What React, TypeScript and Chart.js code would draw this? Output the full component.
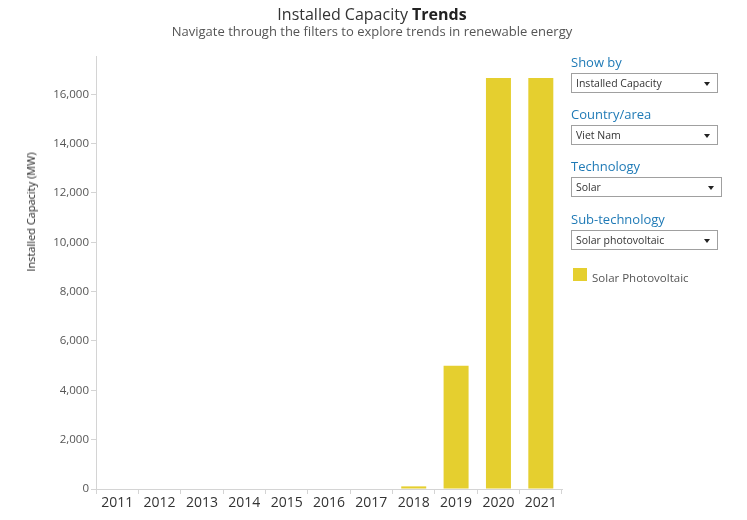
import React, { useEffect, useRef } from "react";
import { Chart, registerables } from "chart.js";

Chart.register(...registerables);

const years = ["2011", "2012", "2013", "2014", "2015", "2016", "2017", "2018", "2019", "2020", "2021"];
const capacityMW = [0, 0, 0, 0, 0, 0, 0, 106, 4998, 16660, 16660];
const seriesName = "Solar Photovoltaic";
const yTickValues = [0, 2000, 4000, 6000, 8000, 10000, 12000, 14000, 16000];
const yMax = 17550;

const filters = [
  { label: "Show by", value: "Installed Capacity", top: 73, width: 147 },
  { label: "Country/area", value: "Viet Nam", top: 125, width: 147 },
  { label: "Technology", value: "Solar", top: 177, width: 151 },
  { label: "Sub-technology", value: "Solar photovoltaic", top: 230, width: 147 },
];

const FONT = "'Open Sans', 'Noto Sans', sans-serif";
const BAR = "#e5cf2f";

export default function App() {
  const ref = useRef<HTMLCanvasElement | null>(null);

  useEffect(() => {
    document.body.style.margin = "0";
    const canvas = ref.current;
    if (!canvas) return;
    const chart = new Chart(canvas, {
      type: "bar",
      data: {
        labels: years,
        datasets: [
          {
            label: seriesName,
            data: capacityMW,
            backgroundColor: BAR,
            borderWidth: 0,
            categoryPercentage: 1,
            barPercentage: 0.59,
          },
        ],
      },
      options: {
        responsive: false,
        animation: false,
        layout: { padding: { top: 56, right: 185, left: 0, bottom: 0 } },
        plugins: {
          legend: { display: false },
          tooltip: { enabled: false },
          title: { display: false },
        },
        scales: {
          x: {
            offset: true,
            grid: {
              offset: true,
              drawOnChartArea: false,
              drawTicks: true,
              tickLength: 5,
              color: (ctx: any) => (ctx.index === years.length ? "rgba(0,0,0,0)" : "#d4d4d4"),
            },
            border: { color: "#d4d4d4", width: 1 },
            ticks: {
              color: "#333333",
              font: { family: FONT, size: 14 },
              padding: 1,
              maxRotation: 0,
              autoSkip: false,
            },
            afterFit: (scale: any) => {
              scale.height = 31;
            },
          },
          y: {
            min: 0,
            max: yMax,
            grid: {
              drawOnChartArea: false,
              drawTicks: true,
              tickLength: 5,
              color: "#d4d4d4",
            },
            border: { color: "#d4d4d4", width: 1 },
            ticks: {
              autoSkip: false,
              color: "#555555",
              font: { family: FONT, size: 11.5 },
              padding: 2,
              callback: (v: any) => Number(v).toLocaleString("en-US"),
            },
            afterBuildTicks: (axis: any) => {
              axis.ticks = yTickValues.map((v) => ({ value: v }));
            },
            afterFit: (scale: any) => {
              scale.width = 96;
            },
          },
        },
      },
    });
    return () => chart.destroy();
  }, []);

  return (
    <div style={{ position: "fixed", left: 0, top: 0, width: 747, height: 520, background: "#fff", fontFamily: FONT, overflow: "hidden" }}>
      <canvas ref={ref} width={747} height={520} style={{ position: "absolute", left: 0, top: 0, width: 747, height: 520 }} />
      <div style={{ position: "absolute", left: 0, top: 4, width: 744, textAlign: "center", fontSize: 16, color: "#333", lineHeight: "21px" }}>
        Installed Capacity <b style={{ color: "#222" }}>Trends</b>
      </div>
      <div style={{ position: "absolute", left: 0, top: 22, width: 744, textAlign: "center", fontSize: 13, color: "#555", lineHeight: "18px" }}>
        Navigate through the filters to explore trends in renewable energy
      </div>
      <div
        style={{
          position: "absolute",
          left: 31,
          top: 212,
          transform: "translate(-50%, -50%) rotate(-90deg)",
          whiteSpace: "nowrap",
          fontSize: 11,
          color: "#222",
          lineHeight: "14px",
        }}
      >
        Installed Capacity (MW)
      </div>
      {filters.map((f) => (
        <React.Fragment key={f.label}>
          <div style={{ position: "absolute", left: 571, top: f.top - 19, fontSize: 13, color: "#1f7ab6", lineHeight: "17px", whiteSpace: "nowrap" }}>
            {f.label}
          </div>
          <div
            style={{
              position: "absolute",
              left: 571,
              top: f.top,
              width: f.width - 2,
              height: 18,
              border: "1px solid #a0a0a0",
              boxSizing: "content-box",
              background: "#fff",
            }}
          >
            <span style={{ position: "absolute", left: 4, top: 1, fontSize: 10.5, color: "#333", lineHeight: "16px", whiteSpace: "nowrap" }}>{f.value}</span>
            <span
              style={{
                position: "absolute",
                right: 7,
                top: 8,
                width: 0,
                height: 0,
                borderLeft: "3.5px solid transparent",
                borderRight: "3.5px solid transparent",
                borderTop: "4px solid #222",
              }}
            />
          </div>
        </React.Fragment>
      ))}
      <div style={{ position: "absolute", left: 573, top: 268, width: 14, height: 13, background: BAR }} />
      <div style={{ position: "absolute", left: 592, top: 270, fontSize: 11.5, color: "#555", lineHeight: "16px", whiteSpace: "nowrap" }}>{seriesName}</div>
    </div>
  );
}
